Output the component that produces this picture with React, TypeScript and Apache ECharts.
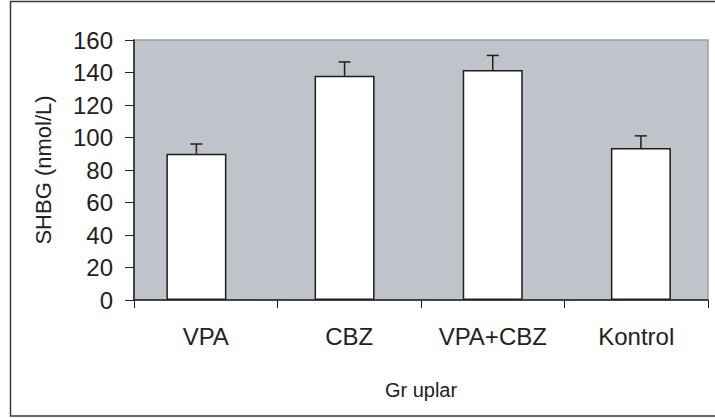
import React, { useEffect, useRef } from "react";
import * as echarts from "echarts";

const categories = ["VPA", "CBZ", "VPA+CBZ", "Kontrol"];
const means = [90, 138, 141.5, 93.5];
const errors = [6, 8.5, 9, 7.5];
const yTicks = [0, 20, 40, 60, 80, 100, 120, 140, 160];

const FONT = "'Liberation Sans', Arial, Helvetica, sans-serif";

export default function App() {
  const ref = useRef<HTMLDivElement>(null);
  useEffect(() => {
    if (!ref.current) return;
    const chart = echarts.init(ref.current, undefined, { renderer: "svg" });
    const errData = means.map((m, i) => [i, m, errors[i]]);
    chart.setOption({
      animation: false,
      backgroundColor: "#ffffff",
      textStyle: { fontFamily: FONT },
      graphic: [
        {
          type: "rect",
          shape: { x: 10.5, y: 1.5, width: 720, height: 414.5 },
          style: { fill: "none", stroke: "#3a3a3a", lineWidth: 1.5 },
          silent: true,
          z: 100,
        },
      ],
      grid: [
        {
          left: 134,
          top: 40,
          width: 574,
          height: 260,
          show: true,
          backgroundColor: "#bfc3ca",
          borderColor: "#9a9ea6",
          borderWidth: 1.5,
        },
        {
          left: 122.3,
          top: 40,
          width: 597.3,
          height: 260,
        },
      ],
      xAxis: [
        {
          type: "category",
          gridIndex: 0,
          data: categories,
          boundaryGap: true,
          axisLine: { show: true, lineStyle: { color: "#222", width: 1.5 } },
          axisTick: { show: true, length: 8, lineStyle: { color: "#222", width: 1 } },
          axisLabel: {
            fontSize: 24,
            color: "#222",
            margin: 24,
            fontFamily: FONT,
            interval: 0,
            hideOverlap: false,
          },
          name: "Gr uplar",
          nameLocation: "middle",
          nameGap: 80,
          nameTextStyle: { fontSize: 20, color: "#222", fontFamily: FONT },
          splitLine: { show: false },
          z: 10,
        },
        {
          type: "category",
          gridIndex: 1,
          data: categories,
          show: false,
        },
      ],
      yAxis: [
        {
          type: "value",
          gridIndex: 0,
          min: 0,
          max: 160,
          interval: 20,
          axisLine: { show: true, lineStyle: { color: "#222", width: 1.5 } },
          axisTick: { show: true, length: 9, lineStyle: { color: "#222", width: 1 } },
          axisLabel: {
            fontSize: 24,
            color: "#222",
            margin: 21,
            fontFamily: FONT,
            formatter: (v: number) => (yTicks.includes(v) ? String(v) : ""),
          },
          name: "SHBG (nmol/L)",
          nameLocation: "middle",
          nameGap: 80,
          nameRotate: 90,
          nameTextStyle: { fontSize: 22, color: "#222", fontFamily: FONT },
          splitLine: { show: false },
          z: 10,
        },
        {
          type: "value",
          gridIndex: 1,
          min: 0,
          max: 160,
          show: false,
        },
      ],
      series: [
        {
          type: "bar",
          xAxisIndex: 1,
          yAxisIndex: 1,
          data: means,
          barWidth: 60,
          itemStyle: { color: "#ffffff", borderColor: "#1e1e1e", borderWidth: 1.5 },
          z: 5,
        },
        {
          type: "custom",
          xAxisIndex: 1,
          yAxisIndex: 1,
          data: errData,
          z: 6,
          renderItem: (params: any, api: any) => {
            const i = api.value(0);
            const m = api.value(1);
            const e = api.value(2);
            const top = api.coord([i, m]);
            const cap = api.coord([i, m + e]);
            const half = 6;
            const style = { stroke: "#1e1e1e", lineWidth: 1.5 };
            return {
              type: "group",
              children: [
                { type: "line", shape: { x1: top[0], y1: top[1], x2: cap[0], y2: cap[1] }, style },
                { type: "line", shape: { x1: cap[0] - half, y1: cap[1], x2: cap[0] + half, y2: cap[1] }, style },
              ],
            };
          },
        },
      ],
    });
    return () => chart.dispose();
  }, []);
  return (
    <div
      ref={ref}
      style={{ position: "fixed", left: 0, top: 0, width: 715, height: 418 }}
    />
  );
}
